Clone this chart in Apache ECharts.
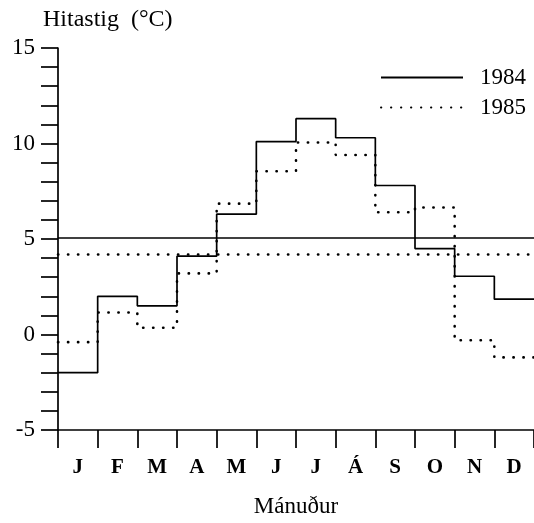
<!DOCTYPE html>
<html>
<head>
<meta charset="utf-8">
<script src="https://cdn.jsdelivr.net/npm/echarts@6/dist/echarts.min.js"></script>
<style>html,body{margin:0;padding:0;background:#fff}#c{width:534px;height:523px}</style>
</head>
<body>
<div id="c"></div>
<script>
var months = ['J','F','M','A','M','J','J','Á','S','O','N','D'];
var temp1984 = [-2.0, 2.0, 1.5, 4.1, 6.3, 10.1, 11.3, 10.3, 7.8, 4.5, 3.05, 1.85];
var temp1985 = [-0.4, 1.15, 0.35, 3.2, 6.85, 8.55, 10.05, 9.4, 6.4, 6.65, -0.3, -1.2];
var yTickLabels = [-5, 0, 5, 10, 15];

var FONT = '"Liberation Serif", "DejaVu Serif", serif';

function stepData(vals) {
  var d = vals.map(function (v, i) { return [i, v]; });
  d.push([vals.length, vals[vals.length - 1]]);
  return d;
}
function mean(vals) {
  return vals.reduce(function (a, b) { return a + b; }, 0) / vals.length;
}

var solid = { color: '#000', width: 1.7, type: 'solid' };
var dotted = { color: '#000', width: 2.6, type: [0.3, 9.7], cap: 'round' };

var chart = echarts.init(document.getElementById('c'), null, { renderer: 'canvas' });
chart.setOption({
  animation: false,
  backgroundColor: '#fff',
  title: {
    text: 'Hitastig  (°C)',
    left: 38, top: 3,
    textStyle: { fontFamily: FONT, fontSize: 24, fontWeight: 'normal', color: '#000' }
  },
  legend: {
    orient: 'vertical',
    right: 3, top: 61,
    itemWidth: 82, itemHeight: 14, itemGap: 7,
    itemStyle: { opacity: 0, borderWidth: 0 },
    textStyle: { fontFamily: FONT, fontSize: 23, color: '#000', padding: [0, 0, 0, 12] },
    data: ['1984', '1985']
  },
  grid: { left: 58, top: 48, bottom: 91, right: -3 },
  xAxis: [{
    type: 'value', min: 0, max: 12, interval: 1,
    axisLine: { show: true, onZero: false, lineStyle: { color: '#000', width: 1.7 } },
    axisTick: { show: true, length: 18, lineStyle: { color: '#000', width: 1.7 } },
    axisLabel: { show: false },
    splitLine: { show: false },
    name: 'Mánuður', nameLocation: 'middle', nameGap: 65,
    nameTextStyle: { fontFamily: FONT, fontSize: 23, color: '#000' }
  }, {
    type: 'category', data: months, boundaryGap: true, position: 'bottom',
    axisLine: { show: false, onZero: false }, axisTick: { show: false },
    axisLabel: { margin: 27, fontFamily: FONT, fontSize: 21, fontWeight: 'bold', color: '#000' }
  }],
  yAxis: {
    type: 'value', min: -5, max: 15, interval: 1,
    axisLine: { show: true, onZero: false, lineStyle: { color: '#000', width: 1.7 } },
    axisTick: { show: true, length: 17, lineStyle: { color: '#000', width: 1.7 } },
    axisLabel: {
      margin: 23, fontFamily: FONT, fontSize: 23, color: '#000',
      formatter: function (v) { return yTickLabels.indexOf(v) >= 0 ? String(v) : ''; }
    },
    splitLine: { show: false }
  },
  series: [{
    name: '1984', type: 'line', step: 'end', xAxisIndex: 0,
    data: stepData(temp1984), symbol: 'none', lineStyle: solid, itemStyle: { color: '#000' },
    markLine: {
      silent: true, symbol: 'none', label: { show: false },
      lineStyle: solid, data: [{ yAxis: mean(temp1984) }]
    }
  }, {
    name: '1985', type: 'line', step: 'end', xAxisIndex: 0,
    data: stepData(temp1985), symbol: 'none', lineStyle: dotted, itemStyle: { color: '#000' },
    markLine: {
      silent: true, symbol: 'none', label: { show: false },
      lineStyle: dotted, data: [{ yAxis: mean(temp1985) }]
    }
  }]
});
</script>
</body>
</html>
